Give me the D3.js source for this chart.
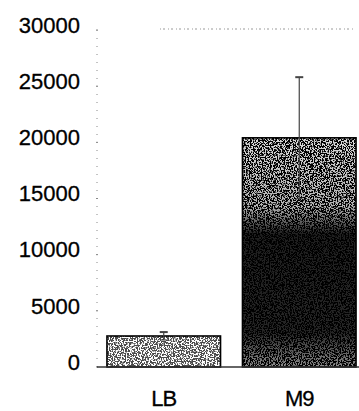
<!DOCTYPE html>
<html><head><meta charset="utf-8">
<script src="https://cdn.jsdelivr.net/npm/d3@7"></script>
<style>body{margin:0;background:#fff}svg{display:block}</style>
</head><body>
<svg id="c" width="359" height="411"></svg>
<script>
const categories = ["LB", "M9"];
const values = [2760, 20400];
const errors = [350, 5400];
const yTicks = [0, 5000, 10000, 15000, 20000, 25000, 30000];

const svg = d3.select("#c");
const x = d3.scaleBand().domain(categories).range([97, 366]).paddingInner(0.162).paddingOuter(0.0735);
const y = d3.scaleLinear().domain([0, 30000]).range([367, 30]);

const defs = svg.append("defs");
const f = defs.append("filter").attr("id", "noise").attr("x", 0).attr("y", 0).attr("width", 1).attr("height", 1);
f.append("feTurbulence").attr("type", "fractalNoise").attr("baseFrequency", 0.75).attr("numOctaves", 2).attr("seed", 3).attr("result", "t");
f.append("feColorMatrix").attr("in", "t").attr("type", "matrix")
  .attr("values", "0 0 0 0 1  0 0 0 0 1  0 0 0 0 1  14 0 0 0 -6.6").attr("result", "s");
f.append("feComposite").attr("in", "s").attr("in2", "SourceGraphic").attr("operator", "in");

const g1 = defs.append("linearGradient").attr("id", "fadeM9").attr("x1", 0).attr("y1", 0).attr("x2", 0).attr("y2", 1);
[[0, 0.85], [0.3, 0.7], [0.42, 0.12], [0.85, 0.15], [1, 0.55]].forEach(([o, a]) =>
  g1.append("stop").attr("offset", o).attr("stop-color", "#fff").attr("stop-opacity", a));
const m9mask = defs.append("mask").attr("id", "m9mask").attr("maskContentUnits", "objectBoundingBox");
m9mask.append("rect").attr("width", 1).attr("height", 1).attr("fill", "url(#fadeM9)");

// dotted frame lines
svg.append("line").attr("x1", 97).attr("x2", 97).attr("y1", y(30000)).attr("y2", y(0))
  .attr("stroke", "#888").attr("stroke-width", 1).attr("stroke-dasharray", "1,7");
svg.append("line").attr("x1", 160).attr("x2", 355).attr("y1", 29).attr("y2", 29)
  .attr("stroke", "#999").attr("stroke-width", 1).attr("stroke-dasharray", "1,2,2,3");

// y tick labels
svg.append("g").selectAll("text").data(yTicks).join("text")
  .attr("x", 80).attr("y", d => y(d) - 5).attr("dy", "0.35em")
  .attr("text-anchor", "end").attr("font-family", "Liberation Sans, Arial, sans-serif")
  .attr("font-size", 22).attr("letter-spacing", 0).attr("fill", "#000")
  .attr("stroke", "#000").attr("stroke-width", 0.3).text(d => d);

// small ticks
svg.append("g").selectAll("line").data(yTicks).join("line")
  .attr("x1", 96).attr("x2", 98).attr("y1", d => y(d)).attr("y2", d => y(d))
  .attr("stroke", "#888").attr("stroke-width", 1);

const bars = svg.append("g");
categories.forEach((c, i) => {
  const bx = x(c), bw = x.bandwidth(), by = y(values[i]), bh = y(0) - y(values[i]);
  bars.append("rect").attr("x", bx).attr("y", by).attr("width", bw).attr("height", bh)
    .attr("fill", i === 0 ? "#4a4a4a" : "#000");
  const ov = bars.append("rect").attr("x", bx).attr("y", by).attr("width", bw).attr("height", bh)
    .attr("fill", "#fff").attr("filter", "url(#noise)");
  if (i === 1) ov.attr("mask", "url(#m9mask)");
  bars.append("rect").attr("x", bx).attr("y", by).attr("width", bw).attr("height", bh)
    .attr("fill", "none").attr("stroke", "#000").attr("stroke-width", 1.6);
});

// error bars
const eb = svg.append("g").attr("stroke", "#444").attr("stroke-width", 1.2);
categories.forEach((c, i) => {
  const cx = x(c) + x.bandwidth() / 2;
  eb.append("line").attr("x1", cx).attr("x2", cx).attr("y1", y(values[i] + errors[i])).attr("y2", y(values[i] - errors[i]));
  eb.append("line").attr("x1", cx - 4).attr("x2", cx + 4).attr("y1", y(values[i] + errors[i])).attr("y2", y(values[i] + errors[i])).attr("stroke-width", 2);
  eb.append("line").attr("x1", cx - 3).attr("x2", cx + 3).attr("y1", y(values[i] - errors[i])).attr("y2", y(values[i] - errors[i]));
});

// baseline
svg.append("line").attr("x1", 97).attr("x2", 359).attr("y1", y(0)).attr("y2", y(0))
  .attr("stroke", "#333").attr("stroke-width", 1.4);

// x labels
svg.append("g").selectAll("text").data(categories).join("text")
  .attr("x", d => x(d) + x.bandwidth() / 2).attr("y", 406)
  .attr("text-anchor", "middle").attr("font-family", "Liberation Sans, Arial, sans-serif")
  .attr("font-size", 22).attr("letter-spacing", -1).attr("fill", "#000")
  .attr("stroke", "#000").attr("stroke-width", 0.3).text(d => d);
</script>
</body></html>
